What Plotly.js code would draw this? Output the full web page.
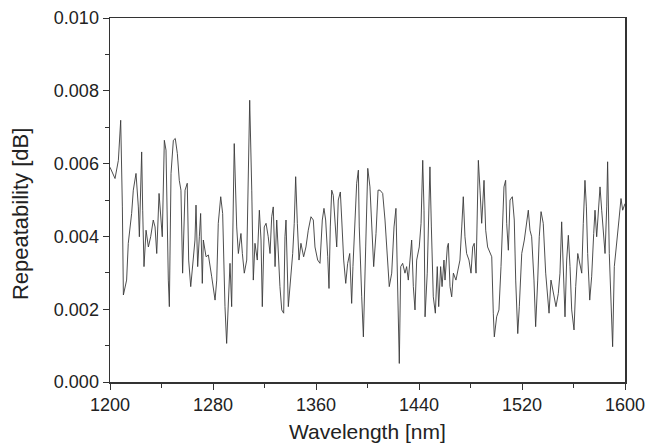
<!DOCTYPE html>
<html>
<head>
<meta charset="utf-8">
<script src="https://cdn.plot.ly/plotly-3.0.1.min.js"></script>
<style>html,body{margin:0;padding:0;background:#fff;}#chart{width:651px;height:446px;}</style>
</head>
<body>
<div id="chart"></div>
<script>
// Wavelength [nm]
const wavelength = [
1200.0,1203.9,1206.5,1208.3,1209.6,1210.4,1212.9,1214.2,1216.8,1218.1,1220.2,1222.0,1222.8,1223.8,1224.6,1225.4,1226.4,1228.0,1229.8,1231.6,
1233.6,1235.0,1236.3,1238.1,1239.4,1240.6,1242.2,1243.5,1245.3,1246.1,1247.4,1249.2,1250.7,1252.3,1253.8,1255.1,1256.4,1258.3,1260.0,1261.1,
1262.7,1264.7,1266.0,1266.8,1268.1,1269.4,1270.4,1271.7,1272.5,1274.6,1276.4,1279.0,1281.6,1282.9,1284.1,1286.0,1287.5,1289.3,1290.6,1293.2,
1294.5,1296.5,1298.4,1299.7,1301.7,1302.8,1304.3,1306.2,1307.4,1308.5,1310.1,1311.3,1312.6,1314.4,1316.0,1317.3,1318.3,1319.8,1321.2,1322.9,
1324.3,1325.6,1326.8,1328.2,1329.5,1330.7,1332.0,1333.4,1334.9,1335.9,1336.7,1338.5,1340.3,1341.9,1343.1,1344.2,1345.5,1346.8,1348.3,1350.4,
1352.2,1354.0,1356.1,1357.9,1359.2,1361.3,1363.1,1364.9,1366.2,1367.5,1369.1,1370.1,1371.1,1372.2,1373.4,1374.8,1376.1,1377.3,1378.9,1380.0,
1381.5,1383.1,1384.6,1386.2,1387.7,1388.7,1390.3,1391.6,1392.9,1393.6,1395.5,1396.8,1398.6,1400.2,1401.9,1403.5,1404.8,1406.6,1408.2,1409.7,
1411.8,1413.6,1415.4,1416.9,1418.8,1420.6,1422.1,1423.4,1424.7,1425.8,1427.3,1429.1,1430.4,1431.7,1433.0,1434.3,1435.6,1436.9,1438.2,1440.2,
1441.6,1442.9,1443.9,1444.7,1446.4,1448.5,1449.6,1451.1,1452.7,1454.2,1455.3,1456.8,1457.9,1459.4,1460.2,1462.0,1462.8,1464.1,1465.4,1466.7,
1468.7,1470.5,1471.8,1473.2,1474.4,1475.7,1477.0,1478.8,1480.4,1481.7,1482.9,1484.3,1486.1,1487.4,1488.7,1490.5,1491.8,1493.3,1495.1,1496.5,
1497.7,1498.5,1500.3,1502.1,1503.7,1505.0,1506.0,1507.3,1508.1,1509.4,1510.7,1512.5,1514.0,1515.1,1516.7,1517.9,1519.8,1521.8,1523.6,1524.9,
1526.2,1527.5,1529.3,1530.6,1532.2,1533.4,1534.8,1536.5,1538.4,1540.0,1541.0,1542.5,1544.3,1546.4,1548.2,1549.5,1550.8,1552.1,1553.4,1554.7,
1556.0,1557.3,1558.6,1560.4,1561.7,1563.3,1565.0,1566.4,1567.6,1568.9,1570.0,1571.0,1572.6,1574.1,1575.7,1576.7,1578.0,1579.3,1580.6,1581.9,
1583.2,1584.5,1585.8,1586.5,1587.8,1589.1,1590.4,1591.7,1593.5,1595.3,1596.9,1598.2,1600.0
];
// Repeatability [dB]
const repeatability = [
0.00590,0.00559,0.00609,0.00719,0.00481,0.00239,0.00280,0.00381,0.00463,0.00527,0.00573,0.00481,0.00399,0.00509,0.00632,0.00472,0.00317,0.00417,0.00371,0.00399,
0.00445,0.00426,0.00353,0.00518,0.00445,0.00399,0.00664,0.00637,0.00280,0.00207,0.00573,0.00664,0.00669,0.00628,0.00554,0.00527,0.00299,0.00527,0.00546,0.00335,
0.00262,0.00335,0.00390,0.00486,0.00317,0.00399,0.00463,0.00271,0.00390,0.00344,0.00349,0.00289,0.00225,0.00280,0.00436,0.00509,0.00463,0.00207,0.00106,0.00326,
0.00207,0.00655,0.00426,0.00353,0.00408,0.00353,0.00299,0.00335,0.00546,0.00774,0.00527,0.00280,0.00381,0.00335,0.00472,0.00390,0.00207,0.00426,0.00436,0.00399,
0.00353,0.00454,0.00481,0.00317,0.00445,0.00335,0.00262,0.00198,0.00189,0.00399,0.00445,0.00207,0.00280,0.00353,0.00436,0.00564,0.00436,0.00335,0.00381,0.00344,
0.00371,0.00417,0.00454,0.00445,0.00371,0.00335,0.00326,0.00445,0.00477,0.00445,0.00344,0.00257,0.00426,0.00527,0.00513,0.00436,0.00371,0.00500,0.00522,0.00445,
0.00335,0.00271,0.00326,0.00353,0.00216,0.00317,0.00445,0.00546,0.00582,0.00426,0.00234,0.00124,0.00371,0.00587,0.00536,0.00390,0.00317,0.00408,0.00527,0.00527,
0.00518,0.00445,0.00344,0.00262,0.00299,0.00426,0.00477,0.00262,0.00051,0.00317,0.00326,0.00299,0.00317,0.00280,0.00326,0.00390,0.00262,0.00198,0.00335,0.00371,
0.00436,0.00609,0.00472,0.00179,0.00299,0.00591,0.00426,0.00234,0.00189,0.00317,0.00207,0.00317,0.00262,0.00335,0.00280,0.00371,0.00381,0.00262,0.00234,0.00299,
0.00280,0.00317,0.00335,0.00426,0.00509,0.00399,0.00353,0.00335,0.00299,0.00371,0.00381,0.00299,0.00609,0.00527,0.00436,0.00554,0.00417,0.00371,0.00353,0.00344,
0.00189,0.00124,0.00179,0.00198,0.00317,0.00445,0.00536,0.00554,0.00436,0.00362,0.00500,0.00509,0.00445,0.00280,0.00133,0.00207,0.00353,0.00390,0.00436,0.00472,
0.00417,0.00399,0.00280,0.00152,0.00280,0.00399,0.00468,0.00436,0.00299,0.00243,0.00189,0.00280,0.00243,0.00207,0.00243,0.00299,0.00440,0.00290,0.00179,0.00335,
0.00403,0.00317,0.00198,0.00143,0.00262,0.00353,0.00317,0.00299,0.00436,0.00554,0.00481,0.00353,0.00225,0.00289,0.00408,0.00472,0.00399,0.00472,0.00536,0.00472,
0.00399,0.00353,0.00481,0.00605,0.00353,0.00234,0.00097,0.00317,0.00390,0.00445,0.00504,0.00472,0.00490
];
const xTicks = [1200, 1280, 1360, 1440, 1520, 1600];
const yTicks = [0.000, 0.002, 0.004, 0.006, 0.008, 0.010];
const xTitle = 'Wavelength [nm]';
const yTitle = 'Repeatability [dB]';

const axisColor = '#333333';
const trace = {
  x: wavelength,
  y: repeatability,
  type: 'scatter',
  mode: 'lines',
  line: {color: '#3a3a3a', width: 0.9},
  hoverinfo: 'skip'
};
const layout = {
  width: 651,
  height: 446,
  margin: {l: 110, r: 26, t: 18, b: 64},
  paper_bgcolor: '#ffffff',
  plot_bgcolor: '#ffffff',
  showlegend: false,
  font: {family: 'Liberation Sans, Arial, sans-serif', color: '#222222', size: 18},
  xaxis: {
    range: [1200, 1600],
    tickvals: xTicks,
    ticktext: xTicks.map(String),
    ticks: 'outside', ticklen: 6, tickwidth: 1, tickcolor: axisColor,
    minor: {ticks: 'outside', ticklen: 4, tickwidth: 1, tickcolor: axisColor, dtick: 40, tick0: 1200},
    showline: true, linecolor: axisColor, linewidth: 1.5, mirror: true,
    showgrid: false, zeroline: false,
    tickfont: {size: 18}
  },
  yaxis: {
    range: [0, 0.010],
    tickvals: yTicks,
    ticktext: yTicks.map(v => v.toFixed(3)),
    ticks: 'outside', ticklen: 6, tickwidth: 1, tickcolor: axisColor,
    minor: {ticks: 'outside', ticklen: 4, tickwidth: 1, tickcolor: axisColor, dtick: 0.001, tick0: 0},
    showline: true, linecolor: axisColor, linewidth: 1.5, mirror: true,
    showgrid: false, zeroline: false,
    tickfont: {size: 18}
  },
  annotations: [
    {text: xTitle, xref: 'paper', yref: 'paper', x: 0.5, y: -0.137,
     xanchor: 'center', yanchor: 'middle', showarrow: false, font: {size: 21}},
    {text: yTitle, xref: 'paper', yref: 'paper', x: -0.175, y: 0.461, textangle: -90,
     xanchor: 'center', yanchor: 'middle', showarrow: false, font: {size: 22}}
  ]
};
Plotly.newPlot('chart', [trace], layout, {displayModeBar: false, staticPlot: true});
</script>
</body>
</html>
